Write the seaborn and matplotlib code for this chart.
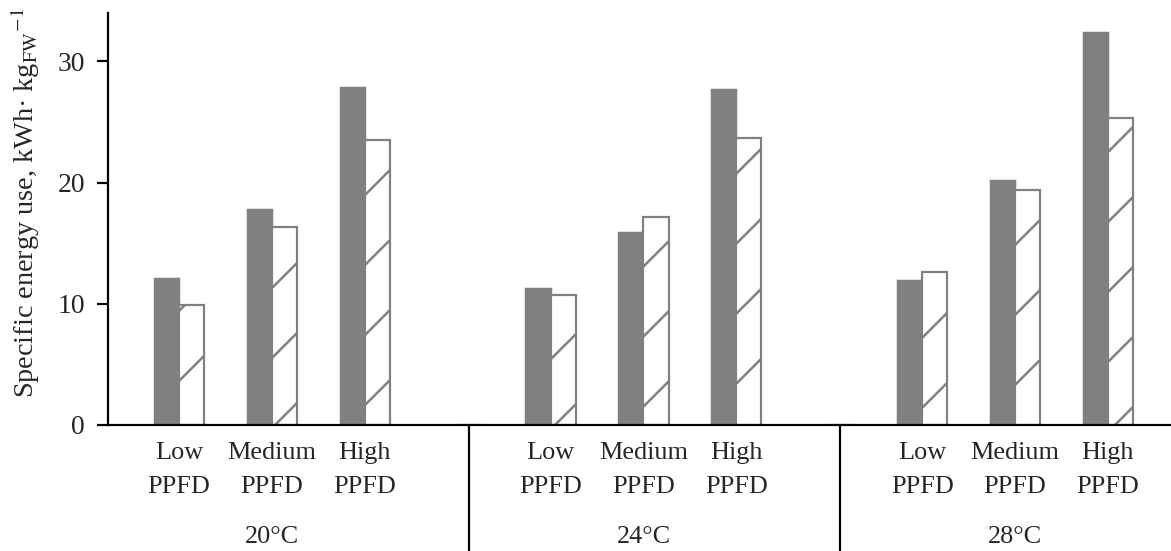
import numpy as np
import pandas as pd
import matplotlib.pyplot as plt
import seaborn as sns

temps = ['20°C', '24°C', '28°C']
ppfd = ['Low\nPPFD', 'Medium\nPPFD', 'High\nPPFD']
# order: 20 Low/Med/High, 24 ..., 28 ...
solid = [12.1, 17.8, 27.9, 11.3, 15.9, 27.7, 12.0, 20.2, 32.4]
hatched = [9.9, 16.3, 23.5, 10.7, 17.2, 23.7, 12.6, 19.4, 25.3]

# build slots, with an empty slot between temperature groups
rows = []
slots = []
for i, t in enumerate(temps):
    for j, p in enumerate(ppfd):
        slot = f'{t} {p}'
        slots.append(slot)
        rows.append((slot, 'solid', solid[3 * i + j]))
        rows.append((slot, 'hatched', hatched[3 * i + j]))
    if i < len(temps) - 1:
        slot = f'gap{i}'
        slots.append(slot)
        rows.append((slot, 'solid', 0.0))
        rows.append((slot, 'hatched', 0.0))
df = pd.DataFrame(rows, columns=['slot', 'series', 'value'])

# dpi picked so the '/' hatch spacing matches the original (~35 px)
DPI = 210
def pt(px):
    return px * 72 / DPI

sns.set_style('ticks')
plt.rcParams['font.family'] = ['Liberation Serif', 'DejaVu Serif']
plt.rcParams['mathtext.fontset'] = 'stix'
plt.rcParams['hatch.linewidth'] = pt(2.5)
plt.rcParams['hatch.color'] = '#808080'

fig = plt.figure(figsize=(1171 / DPI, 551 / DPI), dpi=DPI)
ax = fig.add_axes([108 / 1171, 126 / 551, 1063 / 1171, 412 / 551])

sns.barplot(data=df, x='slot', y='value', hue='series', order=slots,
            hue_order=['solid', 'hatched'],
            palette={'solid': '#808080', 'hatched': 'white'},
            width=0.54, saturation=1, errorbar=None, legend=False, ax=ax)

grey = '#808080'
for bar in ax.containers[0]:
    bar.set_edgecolor(grey)
    bar.set_linewidth(pt(1.5))
for bar in ax.containers[1]:
    bar.set_hatch('/')
    bar.set_edgecolor(grey)
    bar.set_linewidth(pt(2.2))

ax.set_xlim(-0.765, 10.68)
ax.set_ylim(0, 34)
ax.set_yticks([0, 10, 20, 30])
tick_pos = [k for k, s in enumerate(slots) if not s.startswith('gap')]
ax.set_xticks(tick_pos)
ax.set_xticklabels(ppfd * 3, linespacing=1.7)
ax.tick_params(axis='x', length=0, pad=pt(17), labelsize=pt(26.3))
ax.tick_params(axis='y', length=pt(11), width=pt(2.2), pad=pt(12), labelsize=pt(27.7),
               color='black')
for side in ['top', 'right']:
    ax.spines[side].set_visible(False)
for side in ['left', 'bottom']:
    ax.spines[side].set_color('black')
    ax.spines[side].set_linewidth(pt(2.2))

ax.set_xlabel('')
ax.set_ylabel('Specific energy use, kWh· kg$_{\\mathrm{FW}}{}^{-1}$', fontsize=pt(28.3))
ax.yaxis.set_label_coords(-0.062, 0.54)

# temperature group labels and separators below the axis
trans = ax.get_xaxis_transform()
for i, t in enumerate(temps):
    ax.text(4 * i + 1, -0.272, t, transform=trans, ha='center', va='center',
            fontsize=pt(26.3))
for k, s in enumerate(slots):
    if s.startswith('gap'):
        ax.plot([k + 0.12, k + 0.12], [0, -0.31], transform=trans, clip_on=False,
                color='black', lw=pt(2.2))

fig.savefig('out.png', dpi=DPI)
